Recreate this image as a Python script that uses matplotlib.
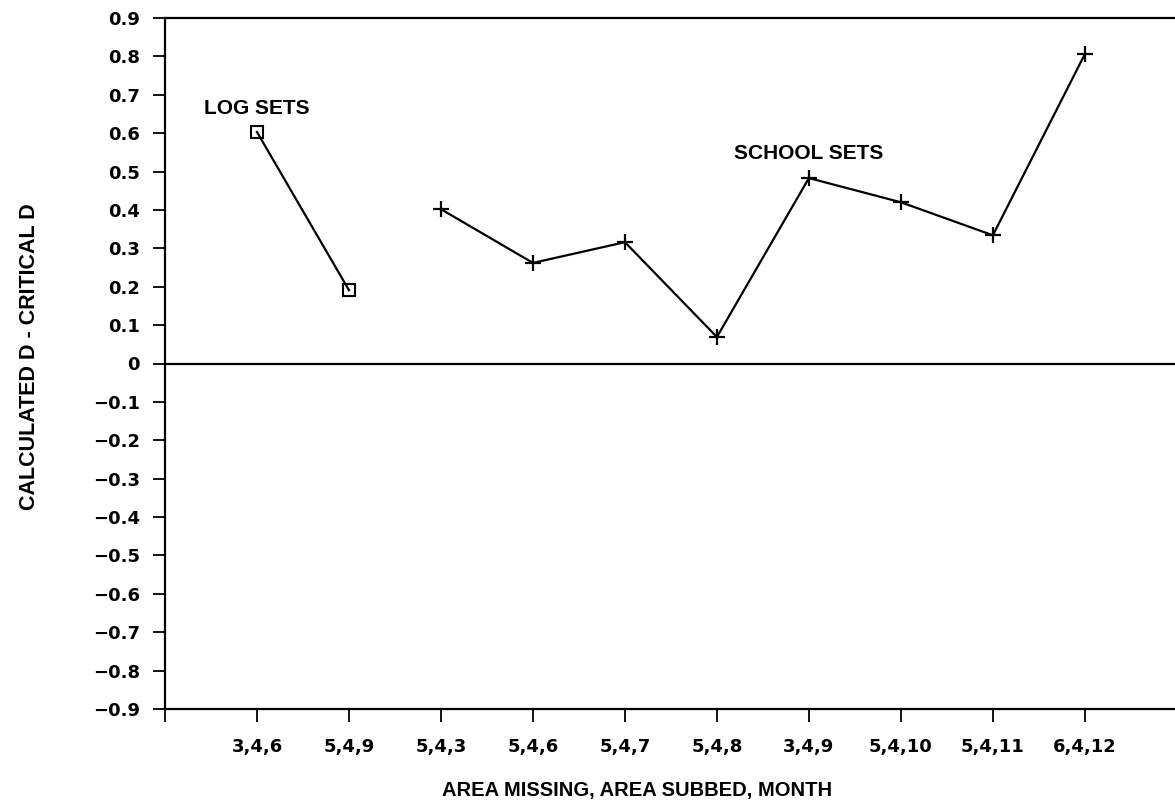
import numpy as np
import matplotlib
matplotlib.use("Agg")
import matplotlib.pyplot as plt

##############################################################################

# Data

categories = ["3,4,6", "5,4,9", "5,4,3", "5,4,6", "5,4,7",
              "5,4,8", "3,4,9", "5,4,10", "5,4,11", "6,4,12"]
log_idx = [1, 2]  # positions of log sets
log_vals = [0.603, 0.191]
school_idx = [3, 4, 5, 6, 7, 8, 9, 10]  # positions of school sets
school_vals = [0.402, 0.262, 0.316, 0.069, 0.483, 0.420, 0.334, 0.806]
yticks = np.round(np.arange(-0.9, 0.91, 0.1), 1)

##############################################################################

# Plot

plt.rcParams['font.family'] = ['Liberation Sans', 'DejaVu Sans']
plt.rcParams['font.weight'] = 'bold'
tickfont = dict(family="DejaVu Sans", size=13, weight="bold")

fig = plt.figure(figsize=(11.75, 8.06), dpi=100)
ax = fig.add_axes([165/1175, 1 - 709/806, 1 - 165/1175, (709 - 18)/806])

ax.plot(log_idx, log_vals, color="black", lw=1.6, marker="s", ms=9,
        mfc="none", mec="black", mew=1.5)
ax.plot(school_idx, school_vals, color="black", lw=1.6, marker="+", ms=11,
        mew=1.6)
ax.axhline(0, color="black", lw=1.6)

# labels above first point of each series
ax.annotate("LOG SETS", xy=(log_idx[0], log_vals[0]), xytext=(0, 17),
            textcoords="offset points", ha="center", va="center",
            fontsize=15, fontweight="bold")
ax.annotate("SCHOOL SETS", xy=(school_idx[4], school_vals[4]),
            xytext=(0, 18), textcoords="offset points", ha="center",
            va="center", fontsize=15, fontweight="bold")

ax.set_xlim(0, 10.98)
ax.set_ylim(-0.9, 0.9)
ax.set_xticks(range(0, len(categories) + 1))
ax.set_xticklabels([""] + categories, fontdict=tickfont)
ax.set_yticks(yticks)
ax.set_yticklabels(["0" if v == 0 else "{:.1f}".format(v).replace("-", "\u2212")
                    for v in yticks], fontdict=tickfont)
ax.tick_params(axis="both", direction="out", length=9, width=1.3, pad=9)
ax.tick_params(axis="x", pad=12)

for side in ["left", "bottom", "top"]:
    ax.spines[side].set_linewidth(1.6)
ax.spines["right"].set_visible(False)

ax.set_xlabel("AREA MISSING, AREA SUBBED, MONTH", fontsize=14.5,
              fontweight="bold")
ax.xaxis.set_label_coords(0.467, -0.104)
ax.set_ylabel("CALCULATED D - CRITICAL D", fontsize=15.5, fontweight="bold")
ax.yaxis.set_label_coords(-0.124, 0.51)

fig.savefig("out.png", dpi=100)
